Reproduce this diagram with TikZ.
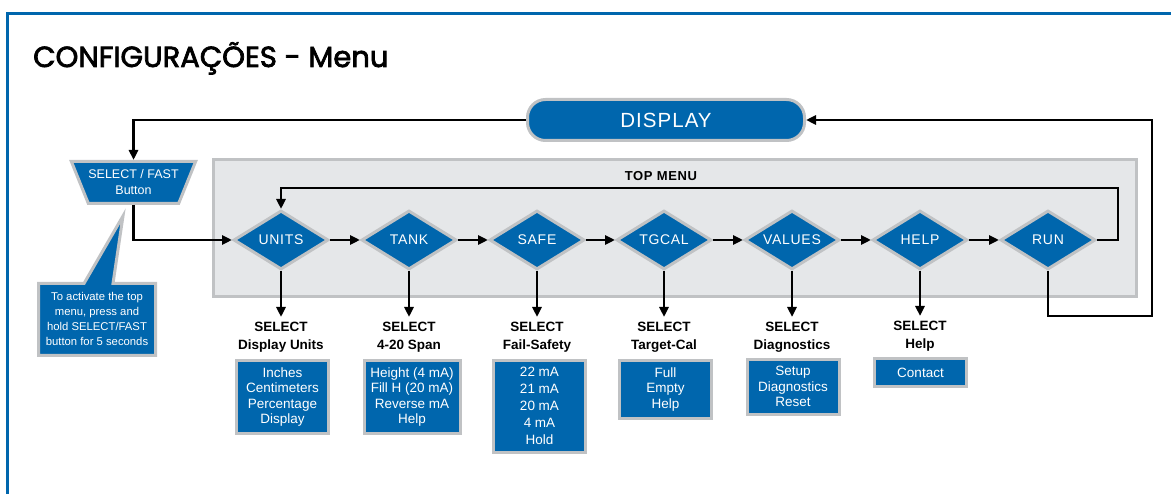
\documentclass[tikz,border=0pt]{standalone}
\usepackage{fontspec}
\setmainfont{Liberation Sans}
\newfontfamily\titlefont{Poppins}[FakeBold=2.5]
\newfontfamily\spacedfont{Liberation Sans}[LetterSpace=5]
\usetikzlibrary{arrows.meta, calc, positioning, shapes.geometric}
\definecolor{brandblue}{RGB}{0,102,173}
\definecolor{rimgray}{RGB}{192,194,196}
\definecolor{panelgray}{RGB}{229,231,233}

\begin{document}
\begin{tikzpicture}[x=1pt, y=-1pt,
  flow/.style={draw=black, line width=2.8pt, -{Triangle[length=10pt,width=9pt]}},
  menustep/.style={diamond, aspect=1.58, fill=brandblue, draw=rimgray, line width=3pt, minimum width=95pt, minimum height=59pt, inner sep=0pt, text=white, font=\spacedfont\fontsize{14}{16}\selectfont},
  sellabel/.style={anchor=north, align=center, inner xsep=0pt, inner ysep=5pt, font=\bfseries\fontsize{13.5}{18}\selectfont},
  optbox/.style={anchor=north, fill=brandblue, draw=rimgray, line width=3pt, text=white, align=center, minimum width=92pt, minimum height=28pt, inner ysep=7pt, font=\fontsize{13.5}{15.5}\selectfont},
]
\useasboundingbox (0,0) rectangle (1171,494);

% Frame and title
\draw[brandblue, line width=3pt] (7.5,494) -- (7.5,13.5) -- (1171,13.5);
\node[anchor=base west, inner sep=0pt, font=\titlefont\fontsize{29}{36}\selectfont] (title) at (33,67) {CONFIGURAÇÕES - Menu};

% Top menu panel
\draw[fill=panelgray, draw=rimgray, line width=3pt] (213.5,159.5) rectangle (1136,297);
\node[font=\spacedfont\bfseries\fontsize{13}{15}\selectfont] (toplabel) at (661,176) {TOP MENU};

% Display and button
\node[rectangle, rounded corners=18pt, fill=brandblue, draw=rimgray, line width=3pt, minimum width=277pt, minimum height=41pt, text=white, font=\spacedfont\fontsize{20.5}{24}\selectfont] (display) at (666,120) {DISPLAY};
\node[trapezium, shape border rotate=180, trapezium left angle=56, trapezium right angle=56, trapezium stretches=true, fill=brandblue, draw=rimgray, line width=3pt, minimum width=124pt, minimum height=42pt, inner sep=0pt, align=center, text=white, font=\fontsize{12.5}{16}\selectfont] (button) at (133.5,182.5) {SELECT / FAST\\Button};

% Callout
\fill[brandblue, draw=rimgray, line width=3pt] (38.5,283.5) -- (84,283.5) -- (123,216) -- (113,283.5) -- (155.5,283.5) -- (155.5,355.5) -- (38.5,355.5) -- cycle;
\node[align=center, text=white, font=\fontsize{11.3}{15}\selectfont] (note) at (97,319) {To activate the top\\menu, press and\\hold SELECT/FAST\\button for 5 seconds};

% Menu steps
\node[menustep] (units) at (281,240) {UNITS};
\node[menustep] (tank) at (409,240) {TANK};
\node[menustep] (safe) at (537,240) {SAFE};
\node[menustep] (tgcal) at (664,240) {TGCAL};
\node[menustep] (values) at (792,240) {VALUES};
\node[menustep] (help) at (920,240) {HELP};
\node[menustep] (run) at (1048,240) {RUN};

% Selections
\node[sellabel] (unitsSel) at (281,317) {SELECT\\Display Units};
\node[sellabel] (tankSel) at (409,317) {SELECT\\4-20 Span};
\node[sellabel] (safeSel) at (537,317) {SELECT\\Fail-Safety};
\node[sellabel] (tgcalSel) at (664,317) {SELECT\\Target-Cal};
\node[sellabel] (valuesSel) at (792,317) {SELECT\\Diagnostics};
\node[sellabel] (helpSel) at (920,316) {SELECT\\Help};

\node[optbox] (unitsBox) at (282.5,359) {Inches\\Centimeters\\Percentage\\Display};
\node[optbox, minimum width=96pt] (tankBox) at (412,359) {Height (4 mA)\\Fill H (20 mA)\\Reverse mA\\Help};
\node[optbox, font=\fontsize{13.5}{17}\selectfont] (safeBox) at (539.5,359) {22 mA\\21 mA\\20 mA\\4 mA\\Hold};
\node[optbox] (tgcalBox) at (665.5,359) {Full\\Empty\\Help};
\node[optbox] (valuesBox) at (793,358) {Setup\\Diagnostics\\Reset};
\node[optbox] (helpBox) at (920.5,357) {Contact};

% Connectors
\coordinate (loopturn) at (1118,188);
\coordinate (backturn) at (1152,316);
\draw[flow] (display.west) -| (button.north);
\draw[flow] (button.south) |- (units.west);
\draw[flow] (units) -- (tank);
\draw[flow] (tank) -- (safe);
\draw[flow] (safe) -- (tgcal);
\draw[flow] (tgcal) -- (values);
\draw[flow] (values) -- (help);
\draw[flow] (help) -- (run);
\draw[flow] (run.east) -| (loopturn) -| (units.north);
\draw[flow] (run.south) |- (backturn) |- (display.east);

\draw[flow] (units.south) -- (unitsSel.north);
\draw[flow] (tank.south) -- (tankSel.north);
\draw[flow] (safe.south) -- (safeSel.north);
\draw[flow] (tgcal.south) -- (tgcalSel.north);
\draw[flow] (values.south) -- (valuesSel.north);
\draw[flow] (help.south) -- (helpSel.north);
\end{tikzpicture}
\end{document}
